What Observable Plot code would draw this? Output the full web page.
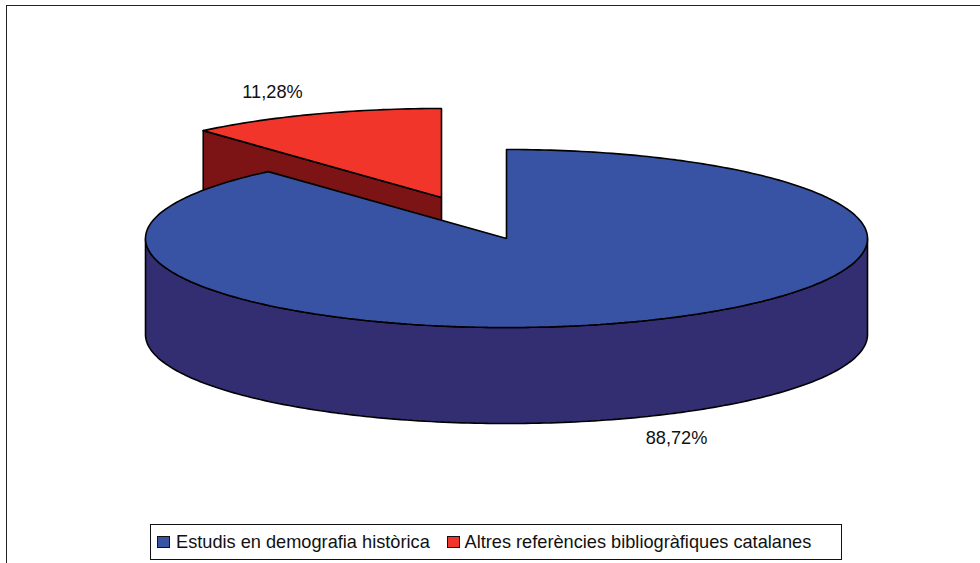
<!DOCTYPE html>
<html>
<head>
<meta charset="utf-8">
<script src="https://cdn.jsdelivr.net/npm/d3@7"></script>
<script src="https://cdn.jsdelivr.net/npm/@observablehq/plot@0.6"></script>
<style>
html,body{margin:0;padding:0;background:#fff;}
#page{position:relative;width:980px;height:563px;overflow:hidden;font-family:"Liberation Sans",Arial,sans-serif;}
#frame{position:absolute;left:5.5px;top:5px;right:-5px;bottom:-5px;border-top:1.5px solid #222;border-left:1.5px solid #222;}
#chart{position:absolute;left:0;top:0;}
#chart svg{display:block;background:transparent;}
#legend{position:absolute;left:150px;top:524px;width:690px;height:34px;border:1.5px solid #111;background:#fff;
  font-size:18.2px;color:#111;line-height:34px;white-space:nowrap;}
#legend .sw{position:absolute;top:11px;width:10.5px;height:9.5px;border:1.2px solid #111;}
#legend .tx{position:absolute;top:0;}
</style>
</head>
<body>
<div id="page">
  <div id="frame"></div>
  <div id="chart"></div>
  <div id="legend"></div>
</div>
<script>
// Data
const sliceNames = ["Estudis en demografia històrica", "Altres referències bibliogràfiques catalanes"];
const sliceLabels = ["88,72%", "11,28%"];
const sliceDegrees = [318.7, 41.3];           // swept angle as drawn
const topColors = ["#3953A4", "#F1352B"];
const sideColors = ["#332E72", "#7C1416"];

// Pie geometry, in radius units of the x and y scales
const depth = 96 / 89;
const explode = {x: -65 / 361, y: 41 / 89};
const rad = d => d * Math.PI / 180;
const rim = (a, ox = 0, oy = 0, drop = 0) => ({x: ox + Math.sin(rad(a)), y: oy + Math.cos(rad(a)) - drop});
const arc = (from, to, ox, oy, drop) => d3.range(from, to, 1).concat(to).map(a => rim(a, ox, oy, drop));

const blueEnd = sliceDegrees[0];
const blueTop = [...arc(0, blueEnd), {x: 0, y: 0}, rim(0)];
const blueSide = [...arc(90, 270), ...arc(90, 270, 0, 0, depth).reverse(), rim(90)];
const redTop = [...arc(blueEnd, 360, explode.x, explode.y), {x: explode.x, y: explode.y}, rim(blueEnd, explode.x, explode.y)];
const redA = rim(blueEnd, explode.x, explode.y);
const redC = {x: explode.x, y: explode.y};
const redWall = [redA, redC, {x: redC.x, y: redC.y - depth}, {x: redA.x, y: redA.y - depth}, redA];

const shape = (pts, fill) => Plot.line(pts, {x: "x", y: "y", fill, stroke: "#000", strokeWidth: 1.6, strokeLinejoin: "miter"});
const labelRows = [
  {text: sliceLabels[1], x: (272 - 506) / 361, y: (238 - 92) / 89},
  {text: sliceLabels[0], x: (676 - 506) / 361, y: (238 - 438) / 89}
];

const chart = Plot.plot({
  width: 980,
  height: 520,
  margin: 0,
  x: {domain: [-1, 1], range: [145, 867], axis: null},
  y: {domain: [-1, 1], range: [327, 149], axis: null},
  style: {background: "transparent"},
  marks: [
    shape(redWall, sideColors[1]),
    shape(redTop, topColors[1]),
    shape(blueSide, sideColors[0]),
    shape(blueTop, topColors[0]),
    Plot.text(labelRows, {x: "x", y: "y", text: "text", fontSize: 18.2, fill: "#111",
      fontFamily: "Liberation Sans, Arial, sans-serif"})
  ]
});
document.getElementById("chart").append(chart);

// Legend
const legend = document.getElementById("legend");
const swatchLeft = [6, 296];
const textLeft = [25, 313.5];
sliceNames.forEach((name, i) => {
  const sw = document.createElement("span");
  sw.className = "sw";
  sw.style.left = swatchLeft[i] + "px";
  sw.style.background = topColors[i];
  legend.append(sw);
  const tx = document.createElement("span");
  tx.className = "tx";
  tx.style.left = textLeft[i] + "px";
  tx.textContent = name;
  legend.append(tx);
});
</script>
</body>
</html>
